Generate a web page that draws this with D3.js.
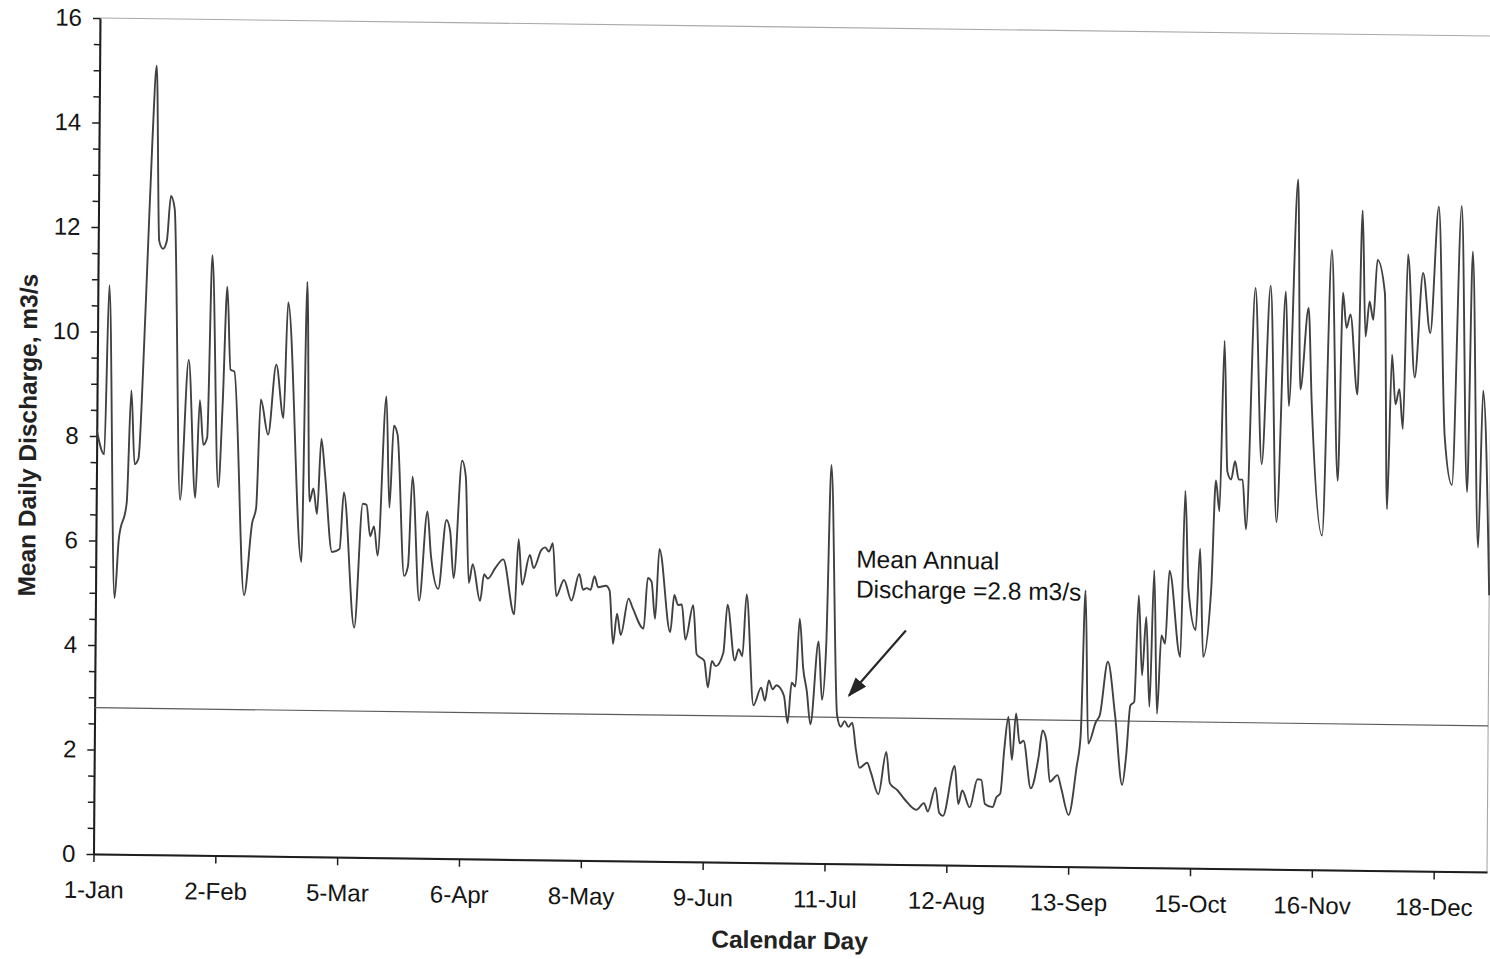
<!DOCTYPE html>
<html>
<head>
<meta charset="utf-8">
<script src="https://cdn.jsdelivr.net/npm/d3@7"></script>
<style>
  body { margin: 0; background: #fff; }
  svg { display: block; font-family: "Liberation Sans", Arial, sans-serif; }
  .axis text { font-size: 24px; fill: #141414; }
  .axis line { stroke: #1e1e1e; stroke-width: 1.5; }
  .axis path { stroke: #1e1e1e; stroke-width: 2; }
  .title { font-size: 24.5px; font-weight: bold; fill: #222; }
  .note { font-size: 24.5px; fill: #141414; }
</style>
</head>
<body>
<div id="chart"></div>
<script>
(() => {
    // day of year (0 = 1-Jan) and mean daily discharge, m3/s
    let days = [
        0, 2, 3, 5, 6, 8, 9, 10, 11, 12,
        13, 14, 15, 16, 17, 18, 19, 20, 22, 24,
        26, 27, 28, 29, 30, 32, 33, 34, 35, 36,
        39, 41, 42, 43, 45, 47, 49, 50, 54, 55,
        56, 57, 58, 59, 60, 62, 64, 65, 68, 70,
        71, 72, 73, 74, 76, 77, 78, 79, 81, 82,
        83, 85, 87, 88, 90, 92, 93, 94, 96, 97,
        98, 99, 101, 102, 103, 105, 107, 110, 111, 112,
        114, 115, 117, 118, 119, 120, 121, 123, 125, 127,
        128, 129, 130, 131, 132, 134, 135, 136, 137, 138,
        140, 141, 144, 145, 146, 147, 148, 151, 152, 153,
        154, 155, 157, 158, 160, 161, 162, 163, 165, 166,
        168, 169, 170, 171, 173, 175, 176, 177, 178, 179,
        181, 182, 183, 184, 185, 186, 187, 188, 190, 191,
        192, 193, 195, 196, 197, 198, 199, 200, 201, 203,
        204, 206, 208, 209, 211, 213, 216, 218, 219, 221,
        222, 223, 226, 227, 228, 230, 232, 233, 234, 236,
        237, 238, 239, 240, 241, 242, 243, 244, 246, 248,
        249, 250, 251, 253, 254, 256, 258, 259, 260, 261,
        263, 264, 266, 268, 270, 271, 272, 273, 274, 275,
        276, 277, 278, 279, 280, 281, 282, 285, 286, 287,
        289, 290, 291, 293, 294, 295, 296, 297, 298, 299,
        300, 301, 302, 304, 306, 308, 310, 312, 313, 315,
        316, 318, 319, 322, 324, 326, 327, 328, 329, 331,
        332, 333, 334, 335, 336, 338, 339, 340, 341, 342,
        343, 344, 346, 348, 350, 352, 354, 356, 358, 360,
        361, 363, 364, 366
    ];
    let flows = [
        8.11, 7.65, 10.89, 4.9, 6.03, 6.73, 8.88, 7.47, 7.58, 9.2,
        11.45, 13.64, 15.1, 11.75, 11.6, 11.75, 12.61, 12.37, 6.8, 9.48,
        6.84, 8.71, 7.86, 8.0, 11.49, 7.05, 8.64, 10.89, 9.3, 9.27,
        4.99, 6.38, 6.66, 8.74, 8.07, 9.41, 8.39, 10.61, 5.64, 11.0,
        6.8, 7.05, 6.56, 8.0, 7.35, 5.84, 5.9, 6.98, 4.4, 6.77,
        6.75, 6.15, 6.34, 5.78, 8.83, 6.7, 8.27, 8.1, 5.4, 5.59,
        7.3, 4.93, 6.64, 5.8, 5.16, 6.48, 6.27, 5.37, 7.62, 7.32,
        5.28, 5.64, 4.94, 5.45, 5.37, 5.58, 5.74, 4.69, 6.13, 5.26,
        5.83, 5.58, 5.93, 5.98, 5.9, 6.06, 5.05, 5.36, 4.97, 5.48,
        5.18, 5.21, 5.18, 5.44, 5.23, 5.26, 5.17, 4.15, 4.73, 4.32,
        5.02, 4.86, 4.45, 5.42, 5.35, 4.64, 5.98, 4.39, 5.1, 4.91,
        4.92, 4.25, 4.91, 3.97, 3.85, 3.34, 3.85, 3.75, 4.01, 4.93,
        3.86, 4.08, 3.95, 5.13, 3.01, 3.35, 3.1, 3.49, 3.32, 3.4,
        3.2, 2.68, 3.45, 3.38, 4.68, 3.73, 3.29, 2.66, 4.25, 3.13,
        4.17, 7.63, 2.84, 2.62, 2.73, 2.62, 2.7, 2.19, 1.84, 1.94,
        1.75, 1.34, 2.15, 1.55, 1.42, 1.24, 1.05, 1.18, 1.02, 1.48,
        1.0, 0.94, 1.9, 1.17, 1.43, 1.11, 1.65, 1.64, 1.18, 1.12,
        1.31, 1.38, 2.25, 2.85, 2.03, 2.92, 2.35, 2.4, 1.49, 2.09,
        2.6, 2.41, 1.62, 1.75, 1.5, 0.99, 1.91, 2.5, 5.29, 2.36,
        2.78, 2.91, 3.93, 2.91, 1.58, 2.15, 3.1, 3.17, 5.21, 3.68,
        4.8, 3.08, 5.69, 2.95, 4.45, 4.29, 5.69, 4.04, 7.22, 5.35,
        4.56, 6.12, 4.05, 5.36, 7.43, 6.84, 10.1, 7.6, 7.45, 7.8,
        7.45, 7.45, 6.5, 11.12, 7.75, 11.17, 6.64, 11.06, 8.87, 13.21,
        9.19, 10.75, 8.94, 6.4, 11.87, 7.45, 11.05, 10.38, 10.64, 9.11,
        12.63, 10.22, 10.89, 10.54, 11.69, 11.06, 6.92, 9.88, 8.93, 9.22,
        8.46, 11.8, 9.45, 11.45, 10.3, 12.72, 8.32, 7.4, 12.74, 7.27,
        11.87, 6.21, 9.21, 5.3
    ];
    let tickDays = [0, 32, 64, 96, 128, 160, 192, 224, 256, 288, 320, 352];
    let tickLabels = ["1-Jan", "2-Feb", "5-Mar", "6-Apr", "8-May", "9-Jun",
        "11-Jul", "12-Aug", "13-Sep", "15-Oct", "16-Nov", "18-Dec"];
    let meanAnnual = 2.8;
    let noteLines = ["Mean Annual", "Discharge =2.8 m3/s"];

    let w = 1490;
    let h = 959;
    let plotW = 1393.5;
    let plotH = 836;

    let svg = d3.select("#chart")
        .append("svg")
        .attr("width", w)
        .attr("height", h);

    // the page was scanned a little crooked, so the whole plot is sheared
    let g = svg.append("g")
        .attr("transform", "translate(93.5,854) matrix(1,0.013,-0.0078,1,0,0) translate(0," + (-plotH) + ")");

    let x = d3.scaleLinear()
        .domain([0, 366])
        .range([0, plotW]);

    let y = d3.scaleLinear()
        .domain([0, 16])
        .range([plotH, 0]);

    // plot frame (top and right edges)
    g.append("rect")
        .attr("x", 0)
        .attr("y", 0)
        .attr("width", plotW)
        .attr("height", plotH)
        .attr("fill", "none")
        .attr("stroke", "#a8a8a8")
        .attr("stroke-width", 1.1);

    // minor ticks every 0.5
    g.append("g")
        .attr("class", "axis")
        .call(d3.axisLeft(y)
            .tickValues(d3.range(0, 16.01, 0.5).filter(d => d % 2 !== 0))
            .tickSize(6)
            .tickSizeOuter(0)
            .tickFormat(""))
        .call(s => s.select(".domain").remove());

    g.append("g")
        .attr("class", "axis")
        .call(d3.axisLeft(y)
            .tickValues(d3.range(0, 16.01, 2))
            .tickSize(7)
            .tickSizeOuter(0)
            .tickPadding(11)
            .tickFormat(d3.format("d")));

    g.append("g")
        .attr("class", "axis")
        .attr("transform", "translate(0," + plotH + ")")
        .call(d3.axisBottom(x)
            .tickValues(tickDays)
            .tickSize(8)
            .tickSizeOuter(0)
            .tickPadding(19)
            .tickFormat((d, i) => tickLabels[i]));

    // mean annual discharge
    g.append("line")
        .attr("x1", x(0))
        .attr("x2", x(366))
        .attr("y1", y(meanAnnual))
        .attr("y2", y(meanAnnual))
        .attr("stroke", "#5a5a5a")
        .attr("stroke-width", 1.2);

    let line = d3.line()
        .x(d => x(d[0]))
        .y(d => y(d[1]))
        .curve(d3.curveMonotoneX);

    g.append("path")
        .datum(d3.zip(days, flows))
        .attr("fill", "none")
        .attr("stroke", "#414141")
        .attr("stroke-width", 1.9)
        .attr("stroke-linejoin", "round")
        .attr("d", line);

    // annotation + arrow
    svg.append("defs")
        .append("marker")
        .attr("id", "head")
        .attr("viewBox", "0 0 20 14")
        .attr("refX", 18)
        .attr("refY", 7)
        .attr("markerWidth", 20)
        .attr("markerHeight", 14)
        .attr("markerUnits", "userSpaceOnUse")
        .attr("orient", "auto")
        .append("path")
        .attr("d", "M0,0 L20,7 L0,14 Z")
        .attr("fill", "#262626");

    g.append("line")
        .attr("x1", x(212.9))
        .attr("y1", y(4.48))
        .attr("x2", x(198.1))
        .attr("y2", y(3.22))
        .attr("stroke", "#262626")
        .attr("stroke-width", 2.2)
        .attr("marker-end", "url(#head)");

    g.append("g")
        .selectAll("text")
        .data(noteLines)
        .enter()
        .append("text")
        .attr("class", "note")
        .attr("x", x(199.7))
        .attr("y", (d, i) => y(5.67) + i * 30)
        .text(d => d);

    g.append("text")
        .attr("class", "title")
        .attr("text-anchor", "middle")
        .attr("dominant-baseline", "central")
        .attr("x", plotW / 2)
        .attr("y", plotH + 77)
        .text("Calendar Day");

    g.append("text")
        .attr("class", "title")
        .attr("text-anchor", "middle")
        .attr("dominant-baseline", "central")
        .attr("transform", "translate(-69," + (plotH / 2) + ") rotate(-90)")
        .text("Mean Daily Discharge, m3/s");
})();
</script>
</body>
</html>
